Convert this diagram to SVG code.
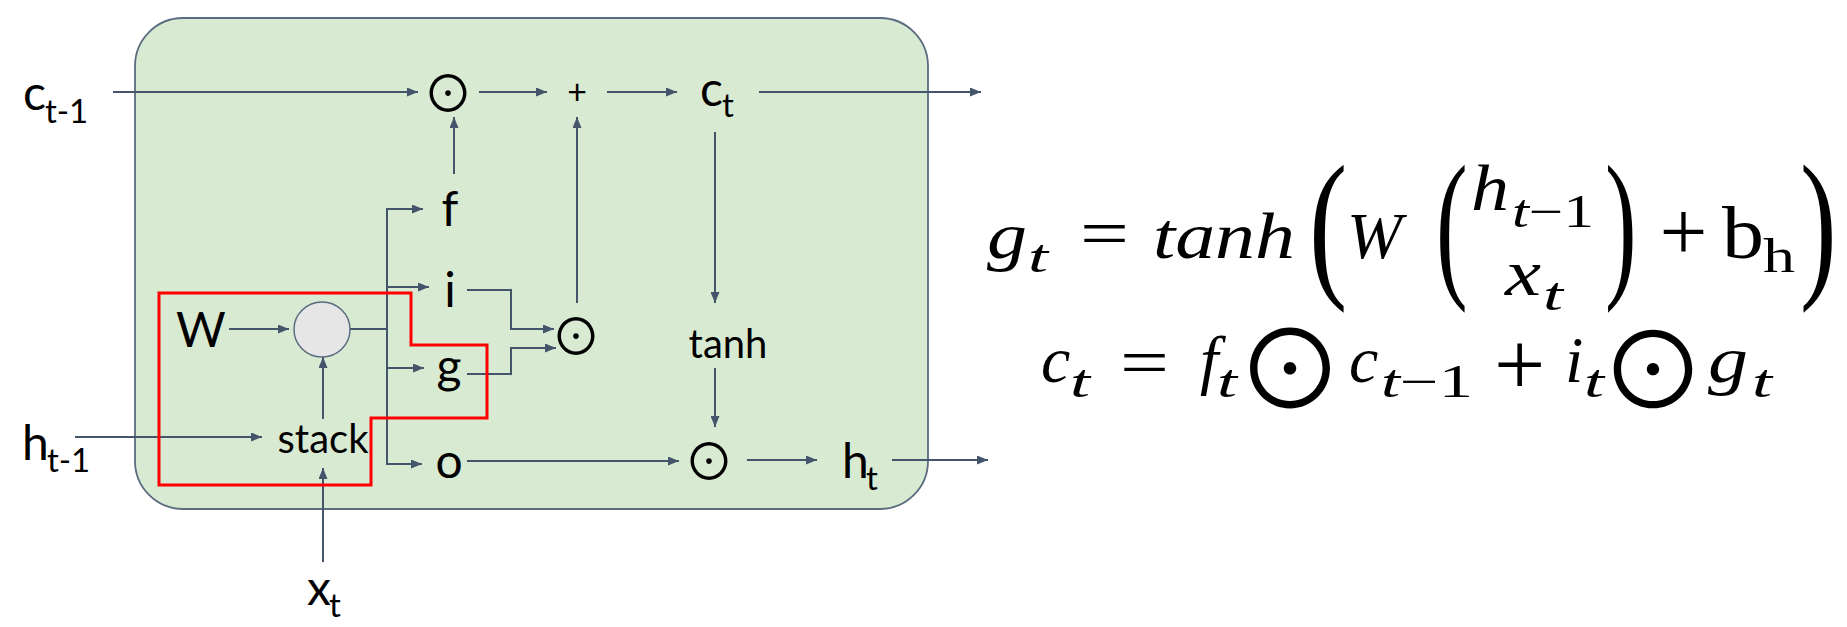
<svg xmlns="http://www.w3.org/2000/svg" width="1847" height="627" viewBox="0 0 1847 627">
<defs>
<marker id="ah" markerUnits="userSpaceOnUse" markerWidth="11" markerHeight="9" refX="11" refY="4.5" orient="auto">
<path d="M0,0 L11,4.5 L0,9 z" fill="#44546a"/>
</marker>
<style>
.lbl{font-family:Lato,"Liberation Sans",sans-serif;fill:#000}
.big{font-size:48px}
.sub{font-size:33px}
.mid{font-size:40px}
.op{font-family:"Noto Sans CJK SC","DejaVu Sans",sans-serif;fill:#000;text-anchor:middle}
.conn path{fill:none;stroke:#44546a;stroke-width:2}
.arr{marker-end:url(#ah)}
.m{font-family:"Liberation Serif",serif;fill:#000}
.p{font-family:"Liberation Serif",serif;fill:#000;font-size:100px}
.it{font-style:italic}
.ms{font-size:66px}
.ss{font-size:46px}
</style>
</defs>
<rect width="1847" height="627" fill="#fff"/>
<g id="cell">
<rect x="135" y="18" width="793" height="491" rx="48" ry="48" fill="#d9ead3" stroke="#5b6b80" stroke-width="1.8"/>
</g>
<g id="connectors" class="conn">
<path class="arr" d="M113,92 H418"/>
<path class="arr" d="M479,92 H547"/>
<path class="arr" d="M607,92 H677"/>
<path class="arr" d="M759,92 H981"/>
<path class="arr" d="M454,174 V117"/>
<path class="arr" d="M577,303 V117"/>
<path class="arr" d="M715,132 V303"/>
<path class="arr" d="M715,368 V427"/>
<path class="arr" d="M467,461 H679"/>
<path class="arr" d="M747,460 H817"/>
<path class="arr" d="M892,460 H988"/>
<path class="arr" d="M229,329 H289"/>
<path class="arr" d="M75,437 H262"/>
<path class="arr" d="M323,562 V468"/>
<path class="arr" d="M323,419 V357"/>
<path d="M350,329 H387"/>
<path d="M387,209 V464"/>
<path class="arr" d="M386,209 H423"/>
<path class="arr" d="M387,287 H429"/>
<path class="arr" d="M387,368 H424"/>
<path class="arr" d="M386,464 H422"/>
<path class="arr" d="M467,290 H511 V329 H554"/>
<path class="arr" d="M467,374 H511 V348 H556"/>
</g>
<g id="region">
<polygon points="159,293 411,293 411,345 487,345 487,418 371,418 371,485 159,485" fill="none" stroke="#ff0000" stroke-width="3"/>
</g>
<g id="node-matmul">
<ellipse cx="322" cy="329.5" rx="28" ry="27.5" fill="#e6e6e6" stroke="#5b6b80" stroke-width="1.5"/>
</g>
<g id="node-ct1"><text class="lbl big" x="23" y="110">c<tspan class="sub" x="45" y="123">t-1</tspan></text></g>
<g id="node-ht1"><text class="lbl big" x="22" y="460">h<tspan class="sub" x="47" y="472">t-1</tspan></text></g>
<g id="node-xt"><text class="lbl big" x="307" y="605">x<tspan class="sub" x="329" y="617">t</tspan></text></g>
<g id="node-W"><text class="lbl big" x="176" y="347">W</text></g>
<g id="node-stack"><text class="lbl mid" x="323" y="453" text-anchor="middle">stack</text></g>
<g id="node-f"><text class="lbl big" x="450" y="226" text-anchor="middle">f</text></g>
<g id="node-i"><text class="lbl big" x="450" y="307" text-anchor="middle">i</text></g>
<g id="node-g"><text class="lbl big" x="449" y="383" text-anchor="middle">g</text></g>
<g id="node-o"><text class="lbl big" x="449" y="478" text-anchor="middle">o</text></g>
<g id="node-mul1"><text class="op" x="448" y="112" style="font-size:50px">⊙</text></g>
<g id="node-add"><text class="lbl" x="577" y="104" font-size="34" text-anchor="middle">+</text></g>
<g id="node-ct"><text class="lbl big" x="700" y="106">c<tspan class="sub" x="722" y="117">t</tspan></text></g>
<g id="node-mul2"><text class="op" x="576" y="355" style="font-size:50px">⊙</text></g>
<g id="node-tanh"><text class="lbl mid" x="728" y="358" text-anchor="middle">tanh</text></g>
<g id="node-mul3"><text class="op" x="709" y="480" style="font-size:50px">⊙</text></g>
<g id="node-ht"><text class="lbl big" x="842" y="478">h<tspan class="sub" x="866" y="490">t</tspan></text></g>
<g id="formula-g">
<text class="m it ms" x="987" y="258" textLength="40" lengthAdjust="spacingAndGlyphs">g</text>
<text class="m it ss" x="1028" y="272" textLength="20" lengthAdjust="spacingAndGlyphs">t</text>
<text class="m" x="1080" y="256" style="font-size:68px" textLength="49" lengthAdjust="spacingAndGlyphs">=</text>
<text class="m it ms" x="1153" y="258" textLength="142" lengthAdjust="spacingAndGlyphs">tanh</text>
<text class="p" transform="translate(1309,278) scale(1.15,1.63)">(</text>
<text class="m it ms" x="1347" y="258">W</text>
<text class="p" transform="translate(1436,278) scale(0.95,1.63)">(</text>
<text class="m it ms" x="1471" y="210" textLength="38" lengthAdjust="spacingAndGlyphs">h</text>
<text class="m ss" x="1512" y="227" textLength="82" lengthAdjust="spacingAndGlyphs"><tspan class="it">t</tspan>−1</text>
<text class="m it ms" x="1505" y="295" textLength="36" lengthAdjust="spacingAndGlyphs">x</text>
<text class="m it ss" x="1543" y="310" textLength="20" lengthAdjust="spacingAndGlyphs">t</text>
<text class="p" transform="translate(1605,278) scale(0.95,1.63)">)</text>
<text class="m" x="1659.5" y="259.5" style="font-size:85px">+</text>
<text class="m" x="1722" y="258" style="font-size:75px" textLength="42" lengthAdjust="spacingAndGlyphs">b</text>
<text class="m" x="1763" y="272" style="font-size:48px" textLength="32" lengthAdjust="spacingAndGlyphs">h</text>
<text class="p" transform="translate(1800,278) scale(1.1,1.63)">)</text>
</g>
<g id="formula-c">
<text class="m it ms" x="1041" y="382">c</text>
<text class="m it ss" x="1070" y="397" textLength="20" lengthAdjust="spacingAndGlyphs">t</text>
<text class="m" x="1120" y="385" style="font-size:68px" textLength="49" lengthAdjust="spacingAndGlyphs">=</text>
<text class="m it ms" x="1200" y="382">f</text>
<text class="m it ss" x="1217" y="397" textLength="20" lengthAdjust="spacingAndGlyphs">t</text>
<text class="op" x="1290" y="409" style="font-size:108px">⊙</text>
<text class="m it ms" x="1349" y="382">c</text>
<text class="m ss" x="1381" y="397" textLength="92" lengthAdjust="spacingAndGlyphs"><tspan class="it">t</tspan>−1</text>
<text class="m" x="1494" y="395" style="font-size:91px">+</text>
<text class="m it ms" x="1565" y="382">i</text>
<text class="m it ss" x="1584" y="397" textLength="20" lengthAdjust="spacingAndGlyphs">t</text>
<text class="op" x="1653" y="409" style="font-size:106px">⊙</text>
<text class="m it ms" x="1708" y="382" textLength="40" lengthAdjust="spacingAndGlyphs">g</text>
<text class="m it ss" x="1752" y="397" textLength="20" lengthAdjust="spacingAndGlyphs">t</text>
</g>
</svg>
